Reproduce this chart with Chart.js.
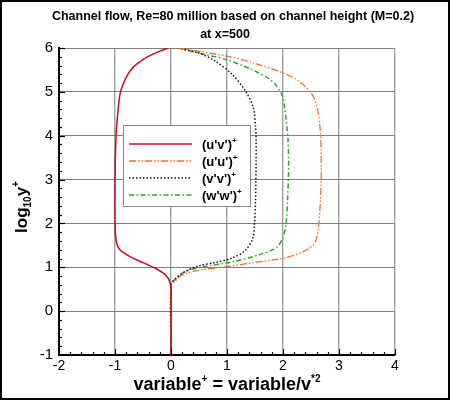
<!DOCTYPE html>
<html>
<head>
<meta charset="utf-8">
<script src="https://cdn.jsdelivr.net/npm/chart.js@4.4.1/dist/chart.umd.min.js"></script>
<style>
    html, body { margin: 0; padding: 0; background: #fff; }
    #wrap { width: 450px; height: 400px; position: relative; }
</style>
</head>
<body>
<div id="wrap"><canvas id="chart"></canvas></div>
<script>
// Reynolds stress profiles, x = variable+, y = log10(y+)
const uvY = [6.0, 5.93, 5.83, 5.72, 5.57, 5.4, 5.19, 4.95, 4.65, 4.05, 3.0, 2.0, 1.6, 1.45, 1.35, 1.25, 1.15, 1.05, 0.95, 0.85, 0.75, 0.65, 0.55, -1.0];
const uvX = [-0.05, -0.2, -0.37, -0.52, -0.67, -0.77, -0.85, -0.91, -0.94, -0.98, -1.0, -1.0, -0.98, -0.94, -0.87, -0.74, -0.58, -0.4, -0.24, -0.12, -0.05, -0.02, 0, 0];

const uuY = [6.0, 5.82, 5.67, 5.44, 5.25, 4.94, 4.64, 4.2, 3.67, 2.92, 2.0, 1.58, 1.43, 1.31, 1.2, 1.09, 1.01, 0.93, 0.82, 0.65, 0.58, -1.0];
const uuX = [0.12, 0.97, 1.44, 1.98, 2.28, 2.52, 2.61, 2.66, 2.68, 2.68, 2.64, 2.58, 2.46, 2.28, 1.98, 1.39, 0.97, 0.49, 0.19, 0.05, 0, 0];

const vvY = [6.0, 5.89, 5.70, 5.40, 5.02, 4.64, 4.2, 3.9, 3.44, 2.53, 1.96, 1.66, 1.39, 1.21, 1.11, 1.03, 0.90, 0.74, 0.6, -1.0];
const vvX = [0.12, 0.49, 0.79, 1.09, 1.33, 1.47, 1.51, 1.52, 1.52, 1.51, 1.49, 1.46, 1.33, 1.09, 0.79, 0.49, 0.25, 0.08, 0, 0];

const wwY = [6.0, 5.85, 5.74, 5.51, 5.25, 4.94, 4.64, 3.9, 3.29, 2.5, 1.96, 1.62, 1.43, 1.28, 1.12, 1.02, 0.9, 0.7, 0.6, -1.0];
const wwX = [0.12, 0.61, 0.97, 1.44, 1.80, 1.98, 2.03, 2.09, 2.1, 2.08, 2.05, 1.98, 1.86, 1.56, 1.09, 0.61, 0.25, 0.05, 0, 0];

const seriesLabels = ["(u'v')", "(u'u')", "(v'v')", "(w'w')"];
const xRange = [-2, 4];
const yRange = [-1, 6];

const FONT = "'Liberation Sans', Arial, Helvetica, sans-serif";

function toPoints(xs, ys) {
    return xs.map((x, i) => ({ x: x, y: ys[i] }));
}

// draw a run of text pieces [text, size, raise] starting at x
function richText(ctx, pieces, x, y, align) {
    let total = 0;
    pieces.forEach(p => {
        ctx.font = 'bold ' + p[1] + 'px ' + FONT;
        total += ctx.measureText(p[0]).width;
    });
    let cx = align === 'center' ? x - total / 2 : x;
    pieces.forEach(p => {
        ctx.font = 'bold ' + p[1] + 'px ' + FONT;
        ctx.fillText(p[0], cx, y - (p[2] || 0));
        cx += ctx.measureText(p[0]).width;
    });
}

const decorPlugin = {
    id: 'decor',
    afterDraw(chart) {
        const ctx = chart.ctx;
        const xs = chart.scales.x, ys = chart.scales.y;
        const area = chart.chartArea;
        ctx.save();

        // inward major/minor ticks
        ctx.strokeStyle = '#000';
        ctx.lineWidth = 1.2;
        for (let i = 0; i <= (xRange[1] - xRange[0]) * 5; i++) {
            const v = xRange[0] + i * 0.2;
            const px = Math.round(xs.getPixelForValue(v)) + 0.5;
            const len = i % 5 === 0 ? 6 : 3;
            ctx.beginPath();
            ctx.moveTo(px, area.bottom);
            ctx.lineTo(px, area.bottom - len);
            ctx.stroke();
        }
        for (let i = 0; i <= (yRange[1] - yRange[0]) * 5; i++) {
            const v = yRange[0] + i * 0.2;
            const py = Math.round(ys.getPixelForValue(v)) + 0.5;
            const len = i % 5 === 0 ? 6 : 3;
            ctx.beginPath();
            ctx.moveTo(area.left, py);
            ctx.lineTo(area.left + len, py);
            ctx.stroke();
        }

        // legend box inside the plot
        const lx = 123, ly = 125, lw = 127, lh = 81;
        ctx.fillStyle = '#fff';
        ctx.fillRect(lx, ly, lw, lh);
        ctx.strokeStyle = '#8c8c8c';
        ctx.lineWidth = 1;
        ctx.strokeRect(lx + 0.5, ly + 0.5, lw, lh);
        const rows = [144, 161, 178, 195];
        chart.data.datasets.forEach((ds, i) => {
            ctx.strokeStyle = ds.borderColor;
            ctx.lineWidth = ds.borderWidth;
            ctx.setLineDash(ds.borderDash || []);
            ctx.beginPath();
            ctx.moveTo(129, rows[i]);
            ctx.lineTo(192, rows[i]);
            ctx.stroke();
            ctx.setLineDash([]);
            ctx.fillStyle = '#000';
            ctx.textBaseline = 'alphabetic';
            ctx.textAlign = 'left';
            richText(ctx, [[ds.label, 13, 0], ['+', 8, 6]], 202, rows[i] + 5, 'left');
        });

        // titles
        ctx.fillStyle = '#000';
        ctx.textAlign = 'left';
        ctx.textBaseline = 'alphabetic';
        richText(ctx, [['Channel flow, Re=80 million based on channel height (M=0.2)', 12.5, 0]], 233, 20, 'center');
        richText(ctx, [['at x=500', 12.5, 0]], 225, 38, 'center');

        // axis titles
        richText(ctx, [['variable', 18, 0], ['+', 10, 8], [' = variable/v', 18, 0], ['*2', 10, 8]], 227, 390, 'center');
        ctx.save();
        ctx.translate(27, 207);
        ctx.rotate(-Math.PI / 2);
        richText(ctx, [['log', 17, 0], ['10', 10, -4], ['y', 17, 0], ['+', 10, 8]], 0, 0, 'center');
        ctx.restore();

        // outer frame
        ctx.strokeStyle = '#000';
        ctx.lineWidth = 2;
        ctx.strokeRect(1, 1, chart.width - 2, chart.height - 2);
        ctx.restore();
    }
};

const ctx = document.getElementById('chart').getContext('2d');

const chart = new Chart(ctx, {
    type: 'scatter',
    data: {
        datasets: [
            {
                label: seriesLabels[0],
                data: toPoints(uvX, uvY),
                borderColor: '#cc0a1e',
                borderWidth: 1.5
            },
            {
                label: seriesLabels[1],
                data: toPoints(uuX, uuY),
                borderColor: '#f26d2a',
                borderWidth: 1.3,
                borderDash: [7, 2, 1.5, 2, 1.5, 2]
            },
            {
                label: seriesLabels[2],
                data: toPoints(vvX, vvY),
                borderColor: '#111',
                borderWidth: 1.5,
                borderDash: [1.5, 2]
            },
            {
                label: seriesLabels[3],
                data: toPoints(wwX, wwY),
                borderColor: '#2ea52e',
                borderWidth: 1.5,
                borderDash: [5, 2.5, 1.5, 2.5]
            }
        ]
    },
    options: {
        responsive: true,
        maintainAspectRatio: false,
        animation: false,
        showLine: true,
        elements: {
            point: { radius: 0 },
            line: { tension: 0.3, fill: false }
        },
        layout: {
            padding: { left: 0, right: 55, top: 48, bottom: 0 }
        },
        plugins: {
            legend: { display: false },
            title: { display: false },
            tooltip: { enabled: false }
        },
        scales: {
            x: {
                type: 'linear',
                min: xRange[0],
                max: xRange[1],
                ticks: {
                    stepSize: 1,
                    color: '#000',
                    padding: 3,
                    font: { family: FONT, size: 14 }
                },
                grid: { color: '#a0a0a0', lineWidth: 1.4, drawTicks: false },
                border: { color: '#000', width: 2 },
                afterFit: function(scale) { scale.height = 45; }
            },
            y: {
                type: 'linear',
                min: yRange[0],
                max: yRange[1],
                ticks: {
                    stepSize: 1,
                    color: '#000',
                    padding: 6,
                    font: { family: FONT, size: 15 }
                },
                grid: { color: '#808080', lineWidth: 1, drawTicks: false },
                border: { color: '#000', width: 2 },
                afterFit: function(scale) { scale.width = 59; }
            }
        }
    },
    plugins: [decorPlugin]
});
</script>
</body>
</html>
